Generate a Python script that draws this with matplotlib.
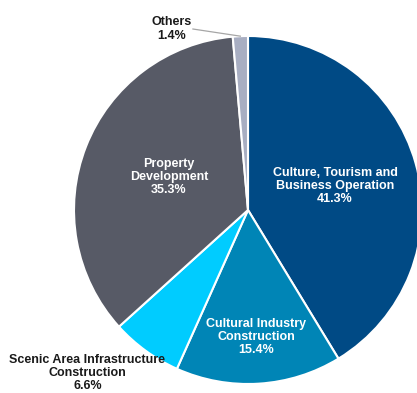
import numpy as np
import matplotlib
matplotlib.use("Agg")
import matplotlib.pyplot as plt

categories = ["Culture, Tourism and\nBusiness Operation", "Cultural Industry\nConstruction",
              "Scenic Area Infrastructure\nConstruction", "Property\nDevelopment", "Others"]
values = [41.3, 15.4, 6.6, 35.3, 1.4]
colors = ["#004A85", "#0085B6", "#00CCFF", "#575A66", "#A8AEC2"]

# label style: (angle override or None, distance, text color)
label_style = [(15.4, 0.519, "white"), (None, 0.73, "white"), (-134.6, 1.315, "#1a1a1a"),
               (157.3, 0.492, "white"), (113.0, 1.13, "#1a1a1a")]

plt.rcParams['font.family'] = ['Liberation Sans', 'DejaVu Sans']

fig = plt.figure(figsize=(4.17, 3.93), dpi=100)
ax = fig.add_axes([0, 0, 1, 1])
wedges, _ = ax.pie(values, colors=colors, startangle=90, counterclock=False,
                   wedgeprops=dict(edgecolor="white", linewidth=1.5))
ax.set_aspect('auto')
R = 174.0
cx, cy = 248.0, 210.0
ax.set_xlim((0 - cx) / R, (417 - cx) / R)
ax.set_ylim((cy - 393) / R, (cy - 0) / R)
ax.axis('off')

for w, cat, v, (ang, dist, col) in zip(wedges, categories, values, label_style):
    mid = (w.theta1 + w.theta2) / 2
    a = np.deg2rad(ang if ang is not None else mid)
    x, y = dist * np.cos(a), dist * np.sin(a)
    ax.text(x, y, f"{cat}\n{v:.1f}%", ha="center", va="center", color=col,
            fontsize=9, fontweight="bold", linespacing=1.12, clip_on=False)

# leader line for Others
w = wedges[4]
mid = np.deg2rad((w.theta1 + w.theta2) / 2)
a = np.deg2rad(113.0)
ax.plot([np.cos(mid) * 1.0, 1.13 * np.cos(a) + 0.125], [np.sin(mid) * 1.0, 1.13 * np.sin(a)],
        color="#A6A6A6", linewidth=0.9)

fig.savefig("out.png", dpi=100)
